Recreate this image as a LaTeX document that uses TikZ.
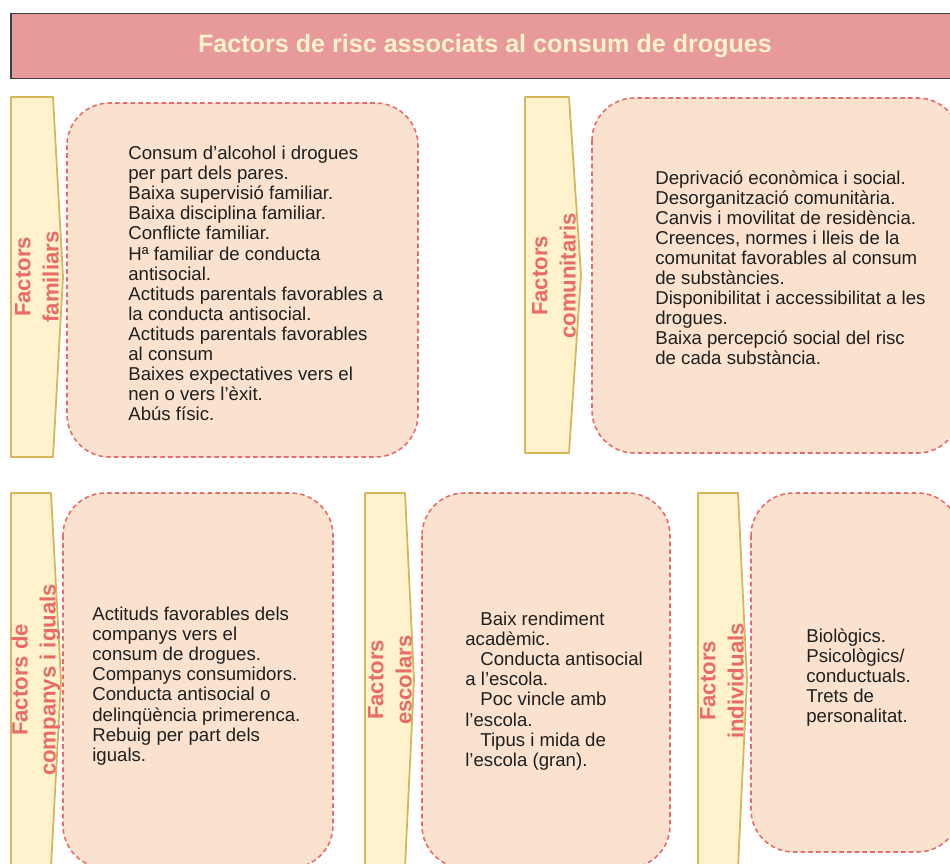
\documentclass[tikz,border=0pt]{standalone}
\usepackage{fontspec}
\setmainfont{Liberation Sans}
\usetikzlibrary{positioning}
\definecolor{titlefill}{HTML}{E8999A}
\definecolor{titletext}{HTML}{FFF2CC}
\definecolor{tabfill}{HTML}{FFF2CC}
\definecolor{tabline}{HTML}{D6B656}
\definecolor{cardfill}{HTML}{FAE2CE}
\definecolor{cardline}{HTML}{EA6B66}
\definecolor{bodytext}{HTML}{1F1F1F}

\begin{document}
\begin{tikzpicture}[
    x=0.02cm, y=-0.02cm,
    title/.style={draw=black!75, line width=1.1pt, fill=titlefill,
                  minimum width=18.96cm, minimum height=1.3cm,
                  font=\fontsize{14.3}{16}\selectfont\bfseries, text=titletext},
    tab/.style={draw=tabline, fill=tabfill, line width=1pt, line join=round},
    card/.style={draw=cardline, fill=cardfill, dash pattern=on 2.6pt off 1.8pt,
                 line width=0.9pt, rounded corners=0.85cm},
    side/.style={rotate=90, align=center, text=cardline, inner sep=0pt,
                 font=\fontsize{12.6}{16}\selectfont\bfseries},
    body/.style={align=left, anchor=north west, text=bodytext, inner sep=0pt,
                 font=\fontsize{10.6}{11.4}\selectfont},
  ]
  \path[use as bounding box, clip] (0,0) rectangle (950,863);

  \node[title] (titol) at (485,46) {Factors de risc associats al consum de drogues};

  % fila de dalt
  \draw[tab] (11,97) -- (53,97) -- (63,277) -- (53,457) -- (11,457) -- cycle;
  \draw[card] (67,103) rectangle (418,457);
  \node[side] (famlbl) at (37,277) {Factors\\familiars};
  \node[body] (famtxt) at (128,146) {Consum d’alcohol i drogues\\per part dels pares.\\
    Baixa supervisió familiar.\\Baixa disciplina familiar.\\Conflicte familiar.\\
    Hª familiar de conducta\\antisocial.\\Actituds parentals favorables a\\
    la conducta antisocial.\\Actituds parentals favorables\\al consum\\
    Baixes expectatives vers el\\nen o vers l’èxit.\\Abús físic.};

  \draw[tab] (525,97) -- (569,97) -- (581,275) -- (569,453) -- (525,453) -- cycle;
  \draw[card] (592,98) rectangle (960,453);
  \node[side] (comlbl) at (554,276) {Factors\\comunitaris};
  \node[body] (comtxt) at (655,170) {Deprivació econòmica i social.\\
    Desorganització comunitària.\\Canvis i movilitat de residència.\\
    Creences, normes i lleis de la\\comunitat favorables al consum\\
    de substàncies.\\Disponibilitat i accessibilitat a les\\drogues.\\
    Baixa percepció social del risc\\de cada substància.};

  % fila de baix
  \draw[tab] (11,493) -- (51,493) -- (61,680) -- (51,867) -- (11,867) -- cycle;
  \draw[card] (63,493) rectangle (333,868);
  \node[side] (parlbl) at (36,680) {Factors de\\companys i iguals};
  \node[body] (partxt) at (92,607) {Actituds favorables dels\\companys vers el\\
    consum de drogues.\\Companys consumidors.\\Conducta antisocial o\\
    delinqüència primerenca.\\Rebuig per part dels\\iguals.};

  \draw[tab] (365,493) -- (405,493) -- (414,680) -- (405,867) -- (365,867) -- cycle;
  \draw[card] (422,493) rectangle (670,868);
  \node[side] (esclbl) at (390,680) {Factors\\escolars};
  \node[body] (esctxt) at (465,612) {\hspace*{0.3cm}Baix rendiment\\acadèmic.\\
    \hspace*{0.3cm}Conducta antisocial\\a l’escola.\\
    \hspace*{0.3cm}Poc vincle amb\\l’escola.\\
    \hspace*{0.3cm}Tipus i mida de\\l’escola (gran).};

  \draw[tab] (698,493) -- (738,493) -- (747,680) -- (738,867) -- (698,867) -- cycle;
  \draw[card] (751,493) rectangle (960,852);
  \node[side] (indlbl) at (722,681) {Factors\\individuals};
  \node[body] (indtxt) at (806,628) {Biològics.\\Psicològics/\\conductuals.\\
    Trets de\\personalitat.};
\end{tikzpicture}
\end{document}
